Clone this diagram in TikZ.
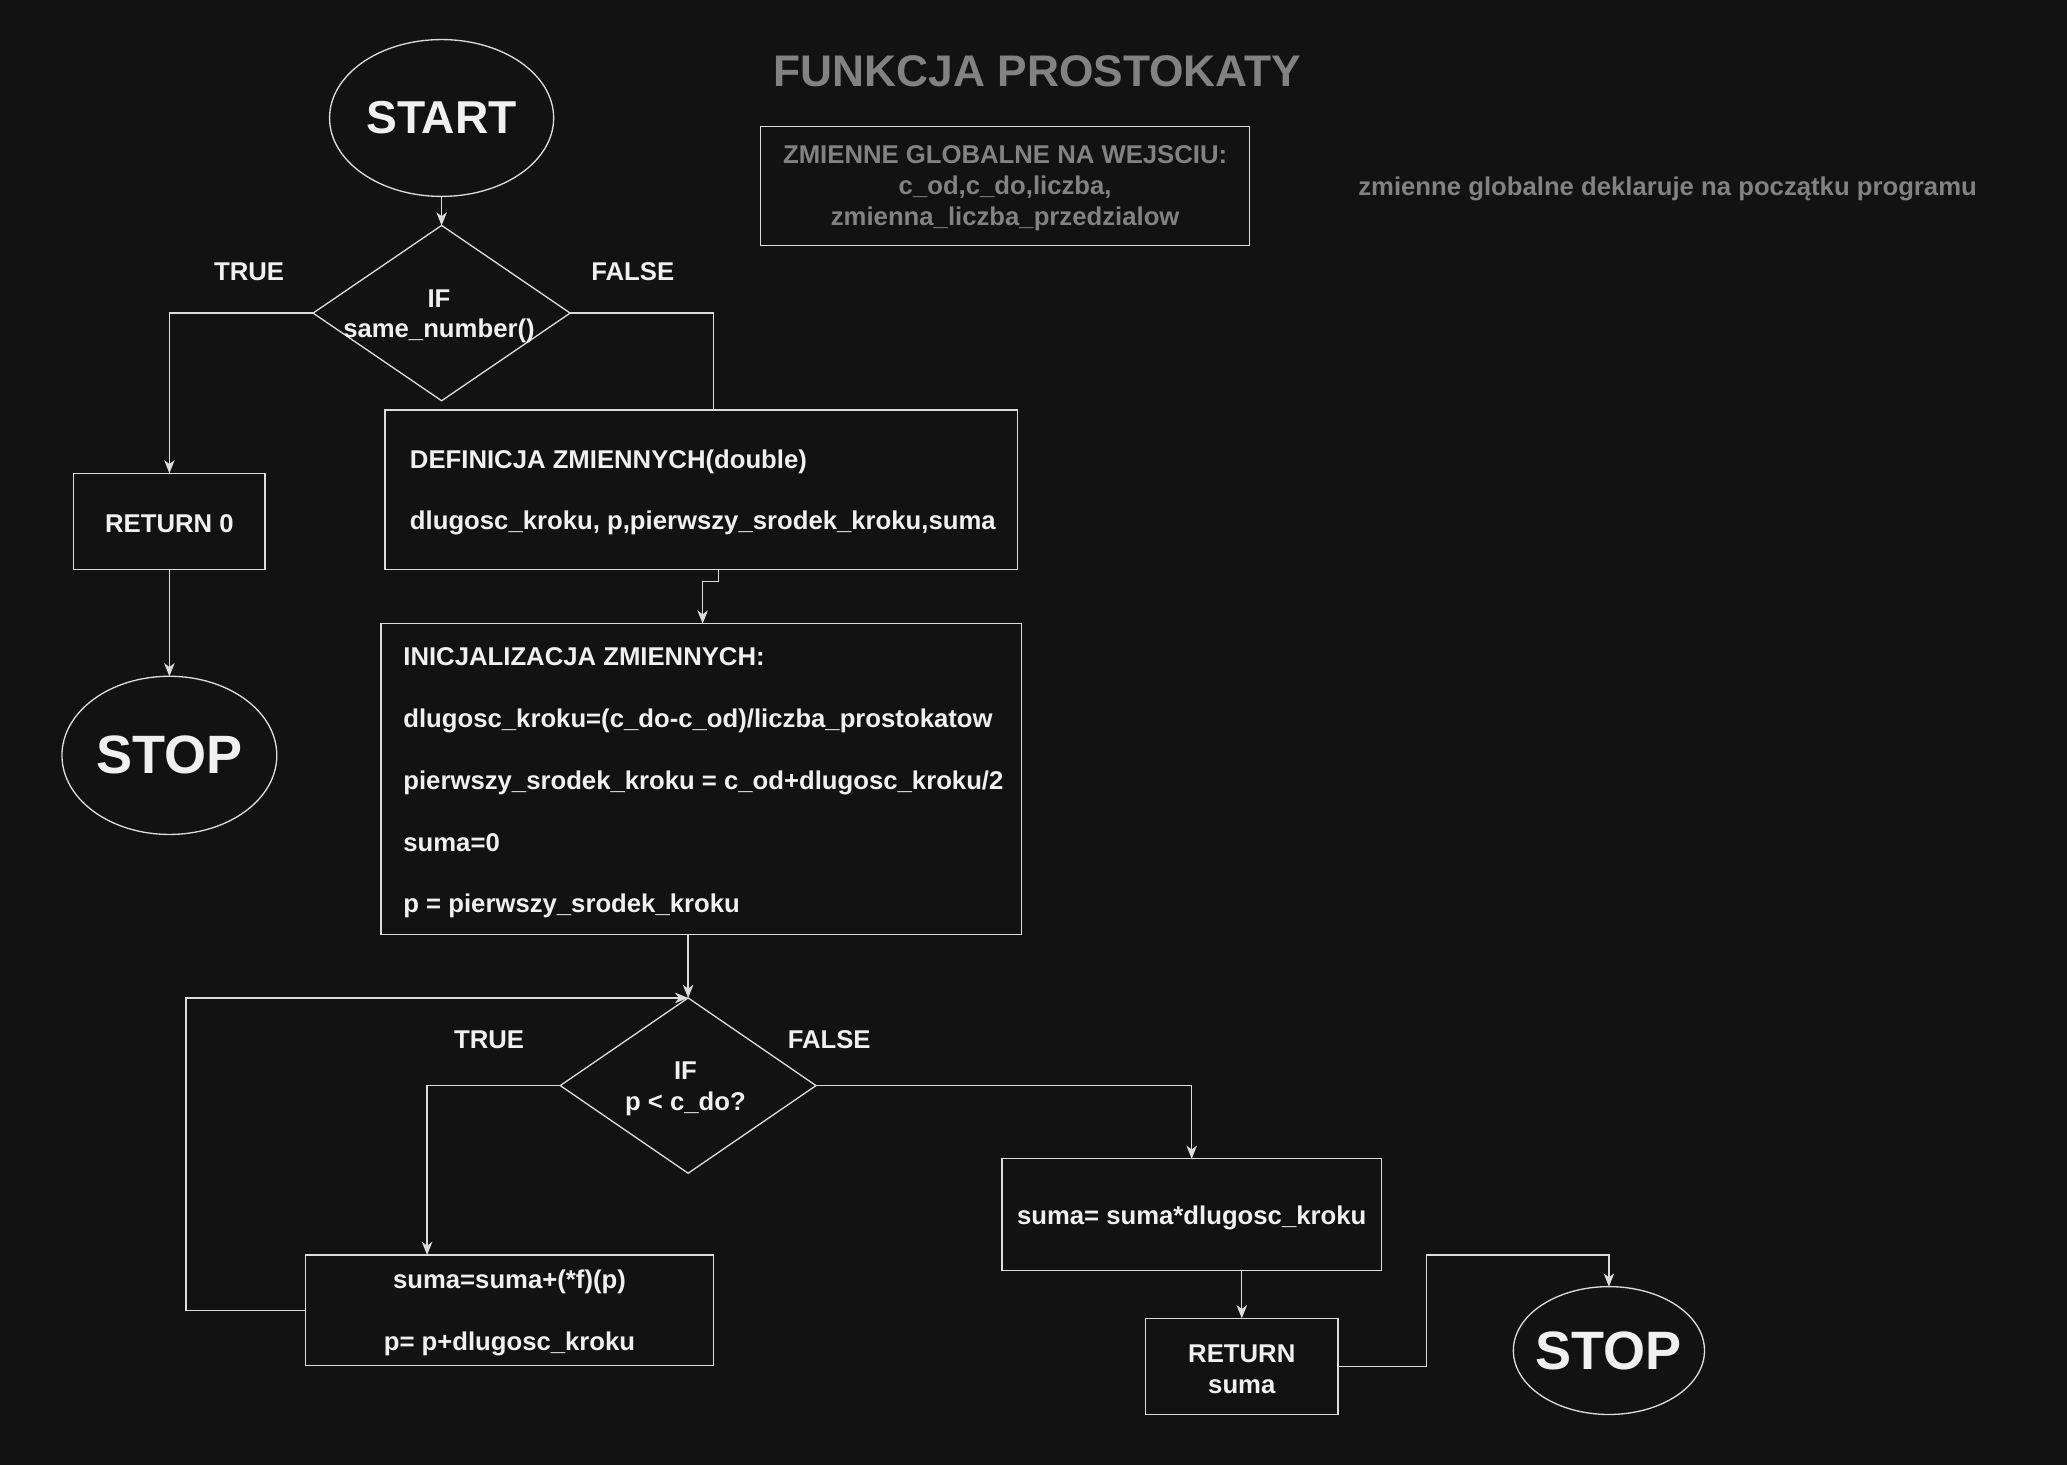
\documentclass[tikz,border=0pt]{standalone}
\usepackage{fontspec}
\setmainfont{Liberation Sans}
\usetikzlibrary{shapes.geometric,arrows.meta}
\definecolor{bg}{HTML}{121212}
\definecolor{ln}{HTML}{DCDCDC}
\definecolor{tx}{HTML}{F0F0F0}
\definecolor{gr}{HTML}{828282}
\begin{document}
\begin{tikzpicture}[x=1pt,y=-1pt,
  every node/.style={inner sep=0pt, outer sep=0pt},
  txt/.style={text=tx, font=\bfseries\fontsize{19.5}{23.4}\selectfont, yshift=-2pt},
  gtxt/.style={text=gr, font=\bfseries\fontsize{19.5}{23.4}\selectfont, yshift=-2pt},
  bigtxt/.style={text=tx, font=\bfseries\fontsize{41}{46}\selectfont},
  box/.style={draw=ln, line width=1pt, rectangle},
  dia/.style={draw=ln, line width=1pt, diamond},
  oval/.style={draw=ln, line width=1pt, ellipse},
  conn/.style={draw=ln, line width=1pt},
  arr/.style={conn, -{Stealth[length=10pt,width=8pt,inset=3pt]}}
]
\fill[bg] (0,0) rectangle (1568,1111);
\useasboundingbox (0,0) rectangle (1568,1111);

% title and notes
\node[gtxt, font=\bfseries\fontsize{33.6}{40}\selectfont] (title) at (787,52) {FUNKCJA PROSTOKATY};
\node[box, minimum width=371, minimum height=90] (glob) at (762.5,141) {};
\node[gtxt, align=center] (globt) at (glob.center) {ZMIENNE GLOBALNE NA WEJSCIU:\\c\_od,c\_do,liczba,\\zmienna\_liczba\_przedzialow};
\node[gtxt] (note) at (1265,141) {zmienne globalne deklaruje na początku programu};

% top part
\node[oval, minimum width=170, minimum height=119] (start) at (335,89.5) {};
\node[txt, font=\bfseries\fontsize{35}{40}\selectfont, yshift=2pt] (startt) at (start.center) {START};
\node[dia, minimum width=195, minimum height=133] (d1) at (335,237.5) {};
\node[txt, align=center] (d1t) at (333,238) {IF\\same\_number()};
\node[txt] (t1) at (189,204) {TRUE};
\node[txt] (f1) at (480,204) {FALSE};

\node[box, minimum width=145, minimum height=73] (ret0) at (128.5,395.5) {};
\node[txt] (ret0t) at (ret0.center) {RETURN 0};
\node[oval, minimum width=163, minimum height=120] (stop1) at (128.5,573) {};
\node[bigtxt] (stop1t) at (stop1.center) {STOP};

\node[box, minimum width=480, minimum height=121] (def) at (532,371.5) {};
\node[txt, anchor=west, align=left] (deft) at ([xshift=19pt]def.west) {DEFINICJA ZMIENNYCH(double)\\[23.4pt]dlugosc\_kroku, p,pierwszy\_srodek\_kroku,suma};

\node[box, minimum width=486, minimum height=236] (inic) at (532,591) {};
\node[txt, anchor=west, align=left, yshift=-1pt] (inict) at ([xshift=17pt]inic.west) {INICJALIZACJA ZMIENNYCH:\\[23.4pt]dlugosc\_kroku=(c\_do-c\_od)/liczba\_prostokatow\\[23.4pt]pierwszy\_srodek\_kroku = c\_od+dlugosc\_kroku/2\\[23.4pt]suma=0\\[23.4pt]p = pierwszy\_srodek\_kroku};

% loop part
\node[dia, minimum width=194, minimum height=133] (d2) at (522,823.5) {};
\node[txt, align=center] (d2t) at (520,824) {IF\\p < c\_do?};
\node[txt] (t2) at (371,787) {TRUE};
\node[txt] (f2) at (629,787) {FALSE};

\node[box, minimum width=309, minimum height=84] (sum1) at (386.5,994) {};
\node[txt, align=center] (sum1t) at (sum1.center) {suma=suma+(*f)(p)\\[23.4pt]p= p+dlugosc\_kroku};

\node[box, minimum width=288, minimum height=85] (sum2) at (904,921.5) {};
\node[txt] (sum2t) at (sum2.center) {suma= suma*dlugosc\_kroku};

\node[box, minimum width=146, minimum height=73] (rets) at (942,1036.5) {};
\node[txt, align=center] (retst) at (rets.center) {RETURN\\suma};

\node[oval, minimum width=145, minimum height=97] (stop2) at (1220.5,1024.5) {};
\node[bigtxt] (stop2t) at (stop2.center) {STOP};

% connectors
\draw[arr] (start.south) -- (d1.north);
\draw[arr] (d1.west) -| (ret0.north);
\draw[arr] (ret0.south) -- (stop1.north);
\draw[conn] (d1.east) -| ([xshift=9pt]def.north);
\draw[arr] ([xshift=13pt]def.south) -- ++(0,9) -| ([xshift=1pt]inic.north);
\draw[arr] (d2.north |- inic.south) -- (d2.north);
\draw[arr] (d2.west) -| ([xshift=-62.5pt]sum1.north);
\draw[arr] (sum1.west) -- ++(-91,0) |- (d2.north);
\draw[arr] (d2.east) -| (sum2.north);
\draw[arr] (rets.north |- sum2.south) -- (rets.north);
\draw[arr] (rets.east) -- ++(67,0) |- ([yshift=24pt]stop2.north) -- (stop2.north);
\end{tikzpicture}
\end{document}
